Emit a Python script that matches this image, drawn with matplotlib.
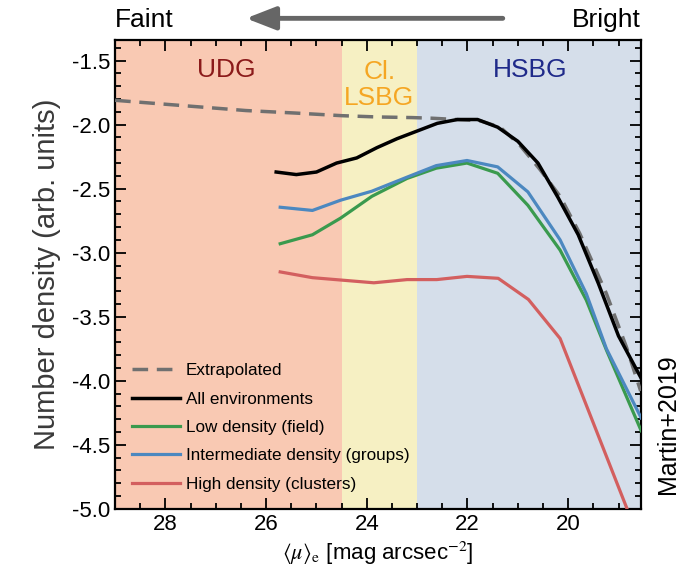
import numpy as np
from matplotlib import pyplot as plt
from matplotlib.ticker import MultipleLocator, FormatStrFormatter

plt.rcParams['font.family'] = ['Liberation Sans', 'DejaVu Sans']
plt.rcParams['mathtext.fontset'] = 'stix'
plt.rcParams['axes.unicode_minus'] = False

# surface brightness grid (mag arcsec^-2) and log number densities
mu_extra = [29.0, 26.4, 25.4, 24.5, 23.8, 23.1, 22.7, 21.75, 21.35, 20.96, 20.56, 20.16, 19.77, 19.24, 18.84, 18.56]
n_extra = [-1.81, -1.89, -1.91, -1.93, -1.94, -1.945, -1.95, -1.97, -2.02, -2.16, -2.35, -2.56, -2.85, -3.32, -3.74, -4.08]

mu_all = [25.8, 25.4, 25.0, 24.6, 24.2, 23.8, 23.4, 23.0, 22.6, 22.2, 21.8, 21.4, 21.0, 20.6, 20.2, 19.8, 19.4, 19.0, 18.55]
n_all = [-2.37, -2.39, -2.37, -2.30, -2.26, -2.18, -2.11, -2.05, -1.99, -1.96, -1.96, -2.02, -2.13, -2.30, -2.57, -2.86, -3.24, -3.65, -3.98]

mu_env = [25.72, 25.08, 24.52, 23.9, 23.2, 22.62, 22.01, 21.4, 20.8, 20.16, 19.64, 19.24, 18.55]
n_low = [-2.93, -2.86, -2.73, -2.56, -2.42, -2.34, -2.30, -2.38, -2.63, -2.98, -3.37, -3.76, -4.39]
n_mid = [-2.645, -2.67, -2.59, -2.52, -2.41, -2.32, -2.28, -2.33, -2.525, -2.90, -3.32, -3.75, -4.29]

mu_high = [25.72, 25.08, 23.86, 23.2, 22.61, 22.01, 21.39, 20.79, 20.16, 19.5, 18.84, 18.7]
n_high = [-3.15, -3.195, -3.235, -3.21, -3.21, -3.185, -3.20, -3.365, -3.67, -4.33, -4.99, -5.15]

regions = [(29.5, 24.5, '#F9C9B3'), (24.5, 23.0, '#F6F0C3'), (23.0, 17.0, '#D5DEEA')]

fig = plt.figure(figsize=(6.85, 5.73), dpi=100)
ax = fig.add_axes([0.168, 0.112, 0.768, 0.818])

for lo, hi, c in regions:
    ax.axvspan(lo, hi, color=c, lw=0, zorder=0)

ax.plot(mu_extra, n_extra, '--', color='#707070', lw=2.5, dashes=(4.5, 2.5), label='Extrapolated', zorder=3)
ax.plot(mu_all, n_all, color='black', lw=2.5, label='All environments', zorder=4)
ax.plot(mu_env, n_low, color='#3A9A4E', lw=2.3, label='Low density (field)', zorder=3)
ax.plot(mu_env, n_mid, color='#4C88C0', lw=2.3, label='Intermediate density (groups)', zorder=3)
ax.plot(mu_high, n_high, color='#D35F5F', lw=2.3, label='High density (clusters)', zorder=3)

ax.set_xlim(29.0, 18.55)
ax.set_ylim(-5.0, -1.34)

ax.text(26.8, -1.575, 'UDG', color='#8B1A1A', fontsize=19, ha='center', va='center')
ax.text(23.75, -1.69, 'Cl.\nLSBG', color='#F5A623', fontsize=19, ha='center', va='center', linespacing=1.1)
ax.text(20.75, -1.575, 'HSBG', color='#1F2A8A', fontsize=19, ha='center', va='center')

ax.xaxis.set_major_locator(MultipleLocator(2))
ax.xaxis.set_minor_locator(MultipleLocator(0.5))
ax.yaxis.set_major_locator(MultipleLocator(0.5))
ax.yaxis.set_minor_locator(MultipleLocator(0.1))
ax.yaxis.set_major_formatter(FormatStrFormatter('%.1f'))
ax.tick_params(which='both', direction='in', top=True, right=True, width=1.3, labelsize=16)
ax.tick_params(which='major', length=8)
ax.tick_params(which='minor', length=4)
for s in ax.spines.values():
    s.set_linewidth(1.6)

ax.set_xlabel(r'$\langle\mu\rangle_{\mathrm{e}}$ [mag arcsec$^{-2}$]', fontsize=16, labelpad=4)
ax.set_ylabel('Number density (arb. units)', fontsize=21, color='#3a3a3a', labelpad=8)

ax.legend(loc='lower left', bbox_to_anchor=(0.0, 0.0), frameon=False, fontsize=12.3,
          handlelength=2.8, labelspacing=0.78, handletextpad=0.35, borderaxespad=0.6)

# Faint <- Bright arrow above the panel
fig.text(0.168, 0.965, 'Faint', fontsize=19, ha='left', va='center')
fig.text(0.936, 0.965, 'Bright', fontsize=19, ha='right', va='center')
ax.annotate('', xy=(0.355, 0.968), xycoords='figure fraction',
            xytext=(0.738, 0.968), textcoords='figure fraction',
            arrowprops=dict(arrowstyle='-|>,head_length=0.9,head_width=0.35',
                            mutation_scale=20, lw=3.5, color='#666666'))

fig.text(0.975, 0.26, 'Martin+2019', fontsize=18, rotation=90, ha='center', va='center')

fig.savefig('out.png', dpi=100)
